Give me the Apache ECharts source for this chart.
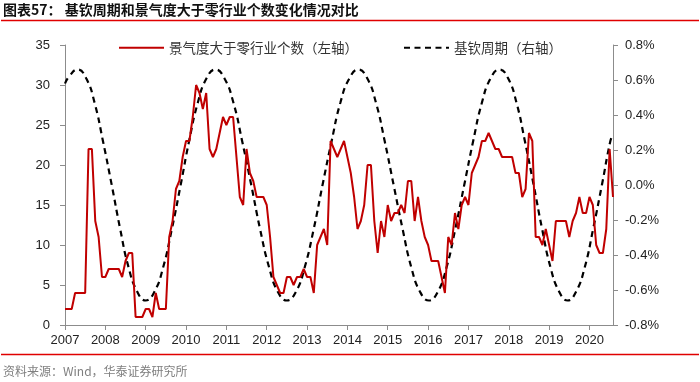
<!DOCTYPE html>
<html><head><meta charset="utf-8">
<script src="https://cdn.jsdelivr.net/npm/echarts@6/dist/echarts.min.js"></script>
<style>html,body{margin:0;padding:0;background:#fff}#c{width:700px;height:382px}</style>
</head><body><div id="c"></div>
<script>
// x ticks: one per January, monthly index from 2007-01
const yearLabels = ['2007','2008','2009','2010','2011','2012','2013','2014','2015','2016','2017','2018','2019','2020'];
const seriesNames = ['景气度大于零行业个数（左轴）', '基钦周期（右轴）'];

// monthly values 2007-01 .. 2020-08 (left axis)
const prosperityCount = [
  2,2,2,4,4,4,4,22,22,13,11,6,        // 2007
  6,7,7,7,7,6,8,9,9,1,1,1,            // 2008
  2,2,1,4,2,2,2,11,13,17,18,21,       // 2009
  23,23,26,30,29,27,29,22,21,22,24,26,// 2010
  25,26,26,21,16,15,22,19,18,16,16,16,// 2011
  15,11,6,5,4,4,6,6,5,6,6,7,          // 2012
  6,6,4,10,11,12,10,23,22,21,22,23,   // 2013
  21,19,16,12,13,15,20,20,13,9,13,11, // 2014
  15,13,14,14,15,14,18,18,13,16,13,11,// 2015
  10,8,8,8,6,4,11,10,14,12,15,16,     // 2016
  15,19,20,21,23,23,24,23,22,22,21,21,// 2017
  21,21,19,19,16,17,24,23,11,11,10,12,// 2018
  10,8,13,13,13,13,11,13,14,16,14,14, // 2019
  16,15,10,9,9,12,22,16               // 2020
];

// Kitchin cycle readings (right axis, %), at month offsets from 2007-01
const cycleMonths = [0,1.2,3.75,6.3,8.8,11.3,13.9,16.4,18.9,21.5,24,26.6,29.2,31.8,34.4,36.9,39.5,42.1,44.75,47.4,50.1,52.7,55.4,58,60.7,63.3,66,68.7,71.3,74,76.6,79.3,81.9,84.6,87.25,89.9,92.5,95.1,97.75,100.4,103,105.6,108.25,110.9,113.5,116.1,118.75,121.4,124,126.6,129.25,131.8,134.3,136.8,139.4,141.9,144.4,147,149.5,152,154.6,157.1,159.7,162.2,163];
const cycleValues = [0.58,0.62,0.66,0.61,0.47,0.25,0,-0.25,-0.47,-0.61,-0.66,-0.61,-0.47,-0.25,0,0.25,0.47,0.61,0.66,0.61,0.47,0.25,0,-0.25,-0.47,-0.61,-0.66,-0.61,-0.47,-0.25,0,0.25,0.47,0.61,0.66,0.61,0.47,0.25,0,-0.25,-0.47,-0.61,-0.66,-0.61,-0.47,-0.25,0,0.25,0.47,0.61,0.66,0.61,0.47,0.25,0,-0.25,-0.47,-0.61,-0.66,-0.61,-0.47,-0.25,0,0.25,0.29];

const chart = echarts.init(document.getElementById('c'), null, {renderer:'canvas'});
const axisColor = '#8c8c8c';
const labelFont = {fontFamily:'Liberation Sans, Arial, sans-serif', fontSize:13, color:'#222'};
const cjk = 'Noto Sans CJK SC';

chart.setOption({
  animation:false,
  backgroundColor:'#fff',
  grid:{left:65, right:87, top:45, bottom:57, containLabel:false},
  graphic:[
    {type:'text', left:3, top:3, style:{text:'图表57： 基钦周期和景气度大于零行业个数变化情况对比', font:'bold 14px "Noto Sans CJK SC"', fill:'#111'}},
    {type:'line', shape:{x1:1,y1:20.5,x2:699,y2:20.5}, style:{stroke:'#e00000', lineWidth:1.5}},
    {type:'line', shape:{x1:1,y1:354.5,x2:699,y2:354.5}, style:{stroke:'#e00000', lineWidth:1.5}},
    {type:'text', left:3, top:365, style:{text:'资料来源：Wind，华泰证券研究所', font:'12px "Noto Sans CJK SC"', fill:'#7f7f7f'}}
  ],
  legend:{
    left:113, top:36, itemWidth:45, itemHeight:14, itemGap:45,
    itemStyle:{opacity:0, color:'transparent', borderWidth:0},
    textStyle:{fontFamily:cjk, fontSize:13.5, color:'#333'},
    data:seriesNames
  },
  xAxis:{
    type:'value', min:0, max:prosperityCount.length-1, interval:12,
    axisLine:{show:true, onZero:false, lineStyle:{color:axisColor}},
    axisTick:{show:true, length:5, lineStyle:{color:axisColor}},
    axisLabel:Object.assign({margin:9, showMaxLabel:false, formatter:v => (v % 12 === 0 ? yearLabels[v/12] : '')}, labelFont),
    splitLine:{show:false}
  },
  yAxis:[
    {type:'value', min:0, max:35, interval:5, position:'left',
     axisLine:{show:true, lineStyle:{color:axisColor}},
     axisTick:{show:true, length:5, lineStyle:{color:axisColor}},
     axisLabel:Object.assign({margin:15}, labelFont),
     splitLine:{show:false}},
    {type:'value', min:-0.8, max:0.8, interval:0.2, position:'right',
     axisLine:{show:true, lineStyle:{color:axisColor}},
     axisTick:{show:true, length:5, lineStyle:{color:axisColor}},
     axisLabel:Object.assign({margin:12, formatter:v => (Math.abs(v) < 1e-9 ? 0 : v).toFixed(1) + '%'}, labelFont),
     splitLine:{show:false}}
  ],
  series:[
    {name:seriesNames[0], type:'line', yAxisIndex:0, symbol:'none',
     lineStyle:{color:'#c00000', width:2}, itemStyle:{color:'#c00000'},
     data:prosperityCount.map((v,i)=>[i,v]), z:3},
    {name:seriesNames[1], type:'line', yAxisIndex:1, symbol:'none', smooth:true,
     lineStyle:{color:'#000', width:2.2, type:[6,4.5]}, itemStyle:{color:'#000'},
     data:cycleMonths.map((m,i)=>[m,cycleValues[i]]), z:2}
  ]
});
</script></body></html>
